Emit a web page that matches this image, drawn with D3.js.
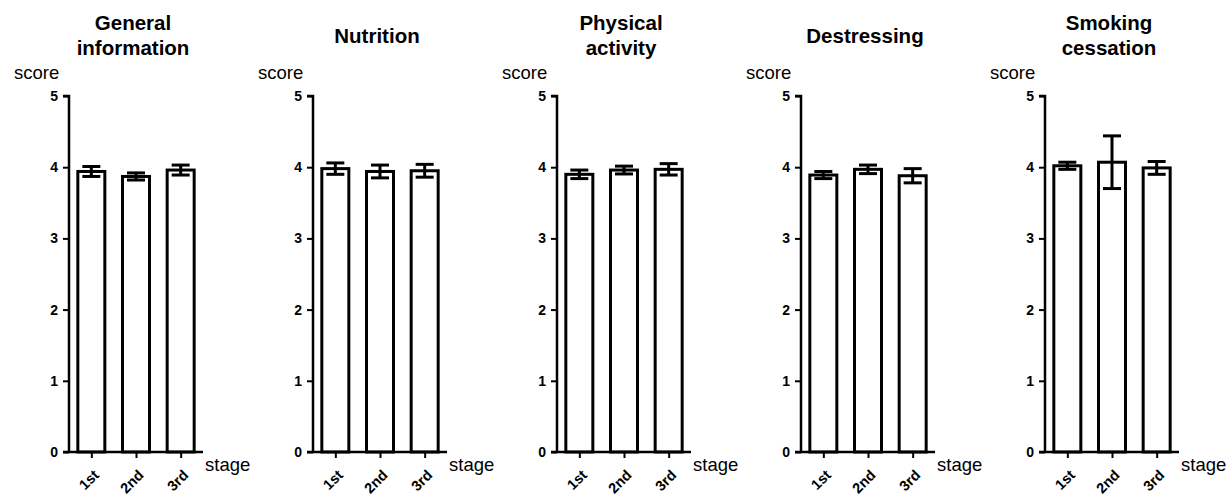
<!DOCTYPE html>
<html><head><meta charset="utf-8">
<script src="https://cdn.jsdelivr.net/npm/d3@7"></script>
<style>
body{margin:0;background:#fff;}
svg{display:block;font-family:"Liberation Sans",Arial,sans-serif;}
.yax text{font-size:14px !important;font-weight:bold;}
.xax text{font-size:14.5px !important;font-weight:bold;}
</style></head><body>
<svg id="c" width="1228" height="498"></svg>
<script>
const titles = [["General","information"],["Nutrition"],["Physical","activity"],["Destressing"],["Smoking","cessation"]];
const stages = ["1st","2nd","3rd"];
const yTicks = [0,1,2,3,4,5];
const meanGeneral = [3.94, 3.87, 3.96];
const errGeneral  = [0.07, 0.05, 0.07];
const meanNutrition = [3.98, 3.94, 3.95];
const errNutrition  = [0.08, 0.09, 0.09];
const meanPhysical = [3.90, 3.96, 3.97];
const errPhysical  = [0.06, 0.055, 0.08];
const meanDestress = [3.89, 3.97, 3.88];
const errDestress  = [0.05, 0.06, 0.10];
const meanSmoking = [4.02, 4.07, 3.99];
const errSmoking  = [0.05, 0.37, 0.09];

const means = [meanGeneral, meanNutrition, meanPhysical, meanDestress, meanSmoking];
const errs = [errGeneral, errNutrition, errPhysical, errDestress, errSmoking];

const svg = d3.select("#c");
const y = d3.scaleLinear().domain([0,5]).range([452,96]);
const axisW = 134;
const x = d3.scalePoint().domain(stages).range([0,axisW]).padding(0.5);
const barW = 27;
const capW = 18;

titles.forEach((t,i)=>{
  const ox = 69 + 244*i;
  const g = svg.append("g").attr("transform",`translate(${ox},0)`);
  const tt = g.append("text").attr("x",64).attr("text-anchor","middle")
    .style("font-weight","bold").style("font-size","20.5px").attr("fill","#000");
  if(t.length===2){
    tt.append("tspan").attr("x",64).attr("y",30).text(t[0]);
    tt.append("tspan").attr("x",64).attr("y",55).text(t[1]);
  } else {
    tt.append("tspan").attr("x",64).attr("y",43).text(t[0]);
  }
  g.append("text").attr("x",-55).attr("y",79).style("font-size","18.5px").attr("fill","#000").text("score");
  g.append("text").attr("x",axisW+2).attr("y",471).style("font-size","18.5px").attr("fill","#000").text("stage");

  const data = stages.map((s,k)=>({s, m:means[i][k], e:errs[i][k]}));
  g.selectAll("rect.bar").data(data).enter().append("rect")
    .attr("x",d=>x(d.s)-barW/2).attr("width",barW)
    .attr("y",d=>y(d.m)).attr("height",d=>y(0)-y(d.m))
    .attr("fill","#fff").attr("stroke","#000").attr("stroke-width",3);
  const eb = g.selectAll("g.eb").data(data).enter().append("g");
  eb.append("line").attr("x1",d=>x(d.s)).attr("x2",d=>x(d.s))
    .attr("y1",d=>y(d.m+d.e)).attr("y2",d=>y(d.m-d.e)).attr("stroke","#000").attr("stroke-width",3);
  eb.append("line").attr("x1",d=>x(d.s)-capW/2).attr("x2",d=>x(d.s)+capW/2)
    .attr("y1",d=>y(d.m+d.e)).attr("y2",d=>y(d.m+d.e)).attr("stroke","#000").attr("stroke-width",3);
  eb.append("line").attr("x1",d=>x(d.s)-capW/2).attr("x2",d=>x(d.s)+capW/2)
    .attr("y1",d=>y(d.m-d.e)).attr("y2",d=>y(d.m-d.e)).attr("stroke","#000").attr("stroke-width",3);

  const ya = g.append("g").attr("class","yax")
    .call(d3.axisLeft(y).tickValues(yTicks).tickFormat(d3.format("d")).tickSize(6).tickPadding(5));
  ya.attr("font-size",14).attr("font-weight","bold");
  ya.select(".domain").attr("stroke","#000").attr("stroke-width",2.5).attr("d",`M-6,96H0V452`);
  ya.selectAll(".tick line").attr("stroke","#000").attr("stroke-width",2);
  ya.selectAll(".tick text").attr("fill","#000");

  const xa = g.append("g").attr("class","xax").attr("transform","translate(0,452)")
    .call(d3.axisBottom(x).tickSize(6).tickPadding(4));
  xa.attr("font-size",14.5).attr("font-weight","bold");
  xa.select(".domain").attr("stroke","#000").attr("stroke-width",2.5).attr("d",`M-6,0H${axisW}`);
  xa.selectAll(".tick line").attr("stroke","#000").attr("stroke-width",2);
  xa.selectAll(".tick text").attr("fill","#000")
    .attr("text-anchor","end").attr("dy",null).attr("y",null)
    .attr("transform","translate(8,24) rotate(-45)");
});
</script>
</body></html>
